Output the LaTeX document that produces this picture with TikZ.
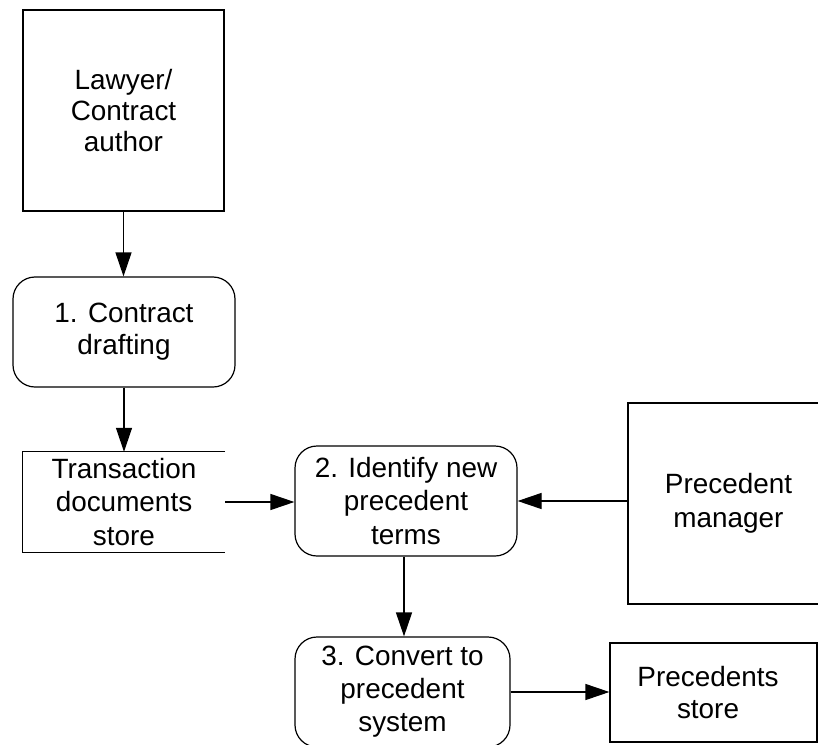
\documentclass[tikz,border=0pt]{standalone}
\usepackage{fontspec}
\setmainfont{Liberation Sans}
\usetikzlibrary{arrows.meta}
\begin{document}
\begin{tikzpicture}[x=1bp,y=-1bp,
  every node/.style={font=\fontsize{28}{34}\selectfont, align=center, inner sep=0pt},
  entity/.style={draw, line width=1.2bp, minimum width=201bp, minimum height=201bp},
  process/.style={draw, rounded corners=22bp, line width=1.2bp, minimum height=110bp},
  store/.style={minimum height=100bp},
  flow/.style={line width=1.2bp, -{Triangle[length=24bp,width=16bp]}},
  edge line/.style={line width=1.2bp}
]
\clip (0,0) rectangle (818,745);

% external entities
\node[entity, font=\fontsize{28}{31}\selectfont] (lawyer) at (123.5,110.5) {Lawyer/\\Contract\\author};
\node[entity] (manager) at (728.5,503.5) {Precedent\\manager};

% processes
\node[process, minimum width=222bp, font=\fontsize{28}{32}\selectfont] (draft) at (124,332) {1. Contract\\drafting};
\node[process, minimum width=222bp] (identify) at (406,501) {2. Identify new\\precedent\\terms};
\node[process, minimum width=215bp, font=\fontsize{28}{33}\selectfont] (convert) at (402.5,692) {3. Convert to\\precedent\\system};

% data stores
\node[store, minimum width=202bp] (trans) at (124,502) {Transaction\\documents\\store};
\draw[edge line] (trans.north east) -- (trans.north west) -- (trans.south west) -- (trans.south east);
\node[store, draw, line width=1.2bp, minimum width=207bp, minimum height=99bp] (precstore) at (713.5,692.5) {};
\node[font=\fontsize{28}{33}\selectfont] (precstorelabel) at ([xshift=-5.5bp]precstore.center) {Precedents\\store};

% data flows
\draw[flow] (lawyer.south) -- (lawyer.south |- draft.north);
\draw[flow] (draft.south) -- (draft.south |- trans.north);
\draw[flow] (trans.east) -- (trans.east -| identify.west);
\draw[flow] (identify.east -| manager.west) -- (identify.east);
\draw[flow] ([xshift=-2bp]identify.south) -- ([xshift=-2bp]identify.south |- convert.north);
\draw[flow] (convert.east) -- (convert.east -| precstore.west);
\end{tikzpicture}
\end{document}
